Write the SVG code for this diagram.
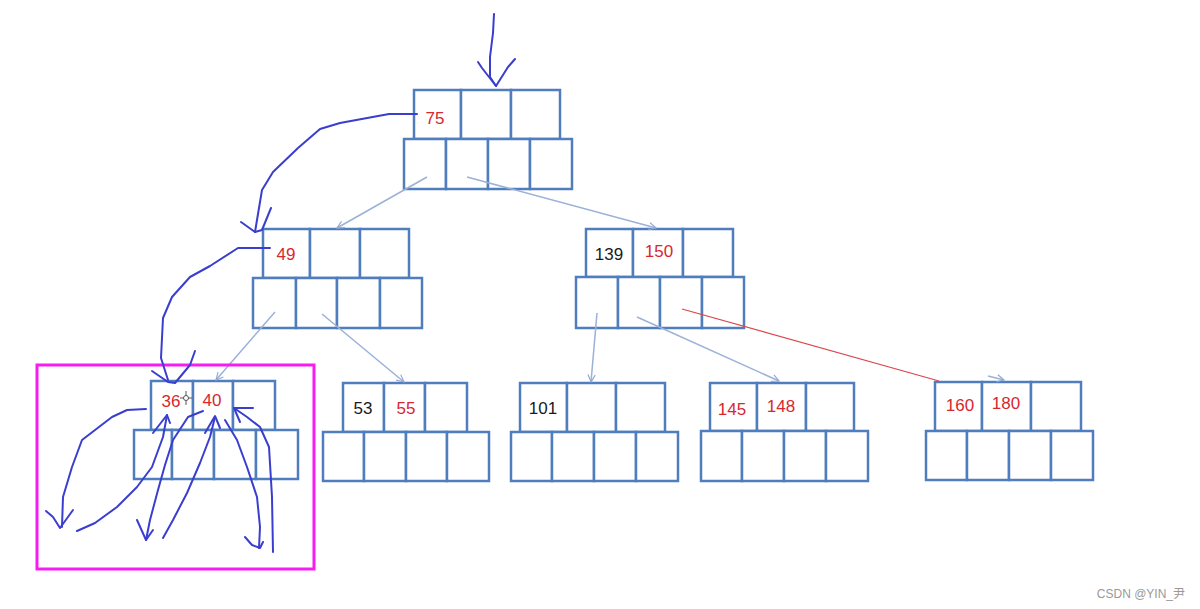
<svg xmlns="http://www.w3.org/2000/svg" width="1200" height="609" viewBox="0 0 1200 609">
<defs>
<marker id="ah" viewBox="0 0 10 10" refX="9" refY="5" markerWidth="9" markerHeight="9" orient="auto" markerUnits="userSpaceOnUse">
<path d="M1,1 L9,5 L1,9" fill="none" stroke="#8fa9d4" stroke-width="1.3"/>
</marker>
<style>
.c{fill:#fff;stroke:#4f7dbd;stroke-width:2.5}
.t{font-family:"Liberation Sans",Arial,sans-serif;font-size:17px;text-anchor:middle}
.r{fill:#d7282e}
.k{fill:#1a1a1a}
.ln{fill:none;stroke:#9bb1d8;stroke-width:1.5}
.hd{fill:none;stroke:#3a3ecf;stroke-width:2;stroke-linecap:round;stroke-linejoin:round}
</style>
</defs>
<rect width="1200" height="609" fill="#fff"/>

<g id="node-root">
<rect class="c" x="414" y="90" width="47" height="49"/><rect class="c" x="461" y="90" width="50" height="49"/><rect class="c" x="511" y="90" width="49" height="49"/>
<rect class="c" x="404" y="139" width="42" height="50"/><rect class="c" x="446" y="139" width="42" height="50"/><rect class="c" x="488" y="139" width="42" height="50"/><rect class="c" x="530" y="139" width="42" height="50"/>
<text class="t r" x="435" y="124">75</text>
</g>
<g id="node-49">
<rect class="c" x="263" y="229" width="47" height="49"/><rect class="c" x="310" y="229" width="50" height="49"/><rect class="c" x="360" y="229" width="49" height="49"/>
<rect class="c" x="253" y="278" width="43" height="50"/><rect class="c" x="296" y="278" width="41" height="50"/><rect class="c" x="337" y="278" width="43" height="50"/><rect class="c" x="380" y="278" width="42" height="50"/>
<text class="t r" x="286" y="260">49</text>
</g>
<g id="node-139">
<rect class="c" x="586" y="229" width="47" height="48"/><rect class="c" x="633" y="229" width="50" height="48"/><rect class="c" x="683" y="229" width="50" height="48"/>
<rect class="c" x="576" y="277" width="42" height="51"/><rect class="c" x="618" y="277" width="42" height="51"/><rect class="c" x="660" y="277" width="42" height="51"/><rect class="c" x="702" y="277" width="42" height="51"/>
<text class="t k" x="609" y="260">139</text>
<text class="t r" x="659" y="257">150</text>
</g>
<g id="node-36">
<rect class="c" x="151" y="381" width="42" height="49"/><rect class="c" x="193" y="381" width="40" height="49"/><rect class="c" x="233" y="381" width="42" height="49"/>
<rect class="c" x="134" y="430" width="38" height="49"/><rect class="c" x="172" y="430" width="42" height="49"/><rect class="c" x="214" y="430" width="42" height="49"/><rect class="c" x="256" y="430" width="42" height="49"/>
<text class="t r" x="171" y="407">36</text>
<text class="t r" x="212" y="406">40</text>
</g>
<g id="node-53">
<rect class="c" x="343" y="383" width="41" height="49"/><rect class="c" x="384" y="383" width="41" height="49"/><rect class="c" x="425" y="383" width="42" height="49"/>
<rect class="c" x="323" y="432" width="41" height="49"/><rect class="c" x="364" y="432" width="42" height="49"/><rect class="c" x="406" y="432" width="41" height="49"/><rect class="c" x="447" y="432" width="42" height="49"/>
<text class="t k" x="363" y="414">53</text>
<text class="t r" x="406" y="414">55</text>
</g>
<g id="node-101">
<rect class="c" x="520" y="383" width="47" height="49"/><rect class="c" x="567" y="383" width="49" height="49"/><rect class="c" x="616" y="383" width="49" height="49"/>
<rect class="c" x="511" y="432" width="41" height="49"/><rect class="c" x="552" y="432" width="42" height="49"/><rect class="c" x="594" y="432" width="42" height="49"/><rect class="c" x="636" y="432" width="42" height="49"/>
<text class="t k" x="543" y="414">101</text>
</g>
<g id="node-145">
<rect class="c" x="710" y="383" width="47" height="48"/><rect class="c" x="757" y="383" width="49" height="48"/><rect class="c" x="806" y="383" width="48" height="48"/>
<rect class="c" x="701" y="431" width="41" height="50"/><rect class="c" x="742" y="431" width="42" height="50"/><rect class="c" x="784" y="431" width="42" height="50"/><rect class="c" x="826" y="431" width="42" height="50"/>
<text class="t r" x="732" y="415">145</text>
<text class="t r" x="781" y="412">148</text>
</g>
<g id="node-160">
<rect class="c" x="935" y="382" width="47" height="49"/><rect class="c" x="982" y="382" width="49" height="49"/><rect class="c" x="1031" y="382" width="50" height="49"/>
<rect class="c" x="926" y="431" width="41" height="49"/><rect class="c" x="967" y="431" width="42" height="49"/><rect class="c" x="1009" y="431" width="42" height="49"/><rect class="c" x="1051" y="431" width="42" height="49"/>
<text class="t r" x="960" y="411">160</text>
<text class="t r" x="1006" y="409">180</text>
</g>

<g id="connectors">
<line class="ln" x1="427" y1="177" x2="337" y2="228" marker-end="url(#ah)"/>
<line class="ln" x1="467" y1="177" x2="656" y2="228" marker-end="url(#ah)"/>
<line class="ln" x1="275" y1="312" x2="216" y2="380" marker-end="url(#ah)"/>
<line class="ln" x1="322" y1="314" x2="404" y2="382" marker-end="url(#ah)"/>
<line class="ln" x1="597" y1="313" x2="591" y2="382" marker-end="url(#ah)"/>
<line class="ln" x1="637" y1="317" x2="779" y2="381" marker-end="url(#ah)"/>
<line class="ln" x1="988" y1="376" x2="1004" y2="380" marker-end="url(#ah)"/>
<line x1="682" y1="309" x2="939" y2="381" stroke="#d9474c" stroke-width="1.2"/>
</g>

<g id="highlight">
<rect x="37" y="365" width="277" height="204" fill="none" stroke="#f81cf4" stroke-width="3"/>
</g>

<g id="hand-arrows">
<path class="hd" d="M494,14 L493,33 L490,57 L490,77 L496,86"/>
<path class="hd" d="M478,62 L482,68 L496,86 L508,67 L515,59"/>
<path class="hd" d="M417,114 L389,114 L340,123 L320,129 L298,148 L273,172 L262,190 L255,232"/>
<path class="hd" d="M241,222 L255,232 L262,230 L271,208"/>
<path class="hd" d="M270,248 L238,248 L210,266 L190,277 L172,297 L163,318 L161,358 L168,380"/>
<path class="hd" d="M152,371 L168,382 L175,383 L190,365 L195,351"/>
<path class="hd" d="M146,409 L127,410 L112,417 L82,440 L72,467 L63,497 L62,527"/>
<path class="hd" d="M46,511 L53,517 L60,528 L73,510"/>
<path class="hd" d="M77,531 L95,523 L117,507 L137,487 L152,467 L163,437 L167,415"/>
<path class="hd" d="M153,433 L167,415 L170,423"/>
<path class="hd" d="M203,411 L188,417 L173,440 L165,465 L158,490 L150,520 L146,540"/>
<path class="hd" d="M137,520 L146,540 L153,530"/>
<path class="hd" d="M163,538 L173,520 L187,493 L200,463 L210,437 L215,417"/>
<path class="hd" d="M205,433 L215,416 L220,428"/>
<path class="hd" d="M225,420 L237,440 L247,467 L257,497 L260,527 L259,548"/>
<path class="hd" d="M245,537 L252,545 L260,548 L263,542"/>
<path class="hd" d="M273,552 L272,497 L269,447 L260,427 L247,417 L234,408"/>
<path class="hd" d="M253,408 L234,408 L240,422"/>
</g>

<g id="cursor" stroke="#555" stroke-width="1" fill="none">
<line x1="186" y1="391" x2="186" y2="405"/><line x1="180" y1="398" x2="192" y2="398"/><circle cx="186" cy="398" r="2.5" fill="#fff"/>
</g>

<text x="1185" y="598" font-family="Liberation Sans,'Noto Sans CJK SC',sans-serif" font-size="12" fill="#999" text-anchor="end">CSDN @YIN_尹</text>
</svg>
